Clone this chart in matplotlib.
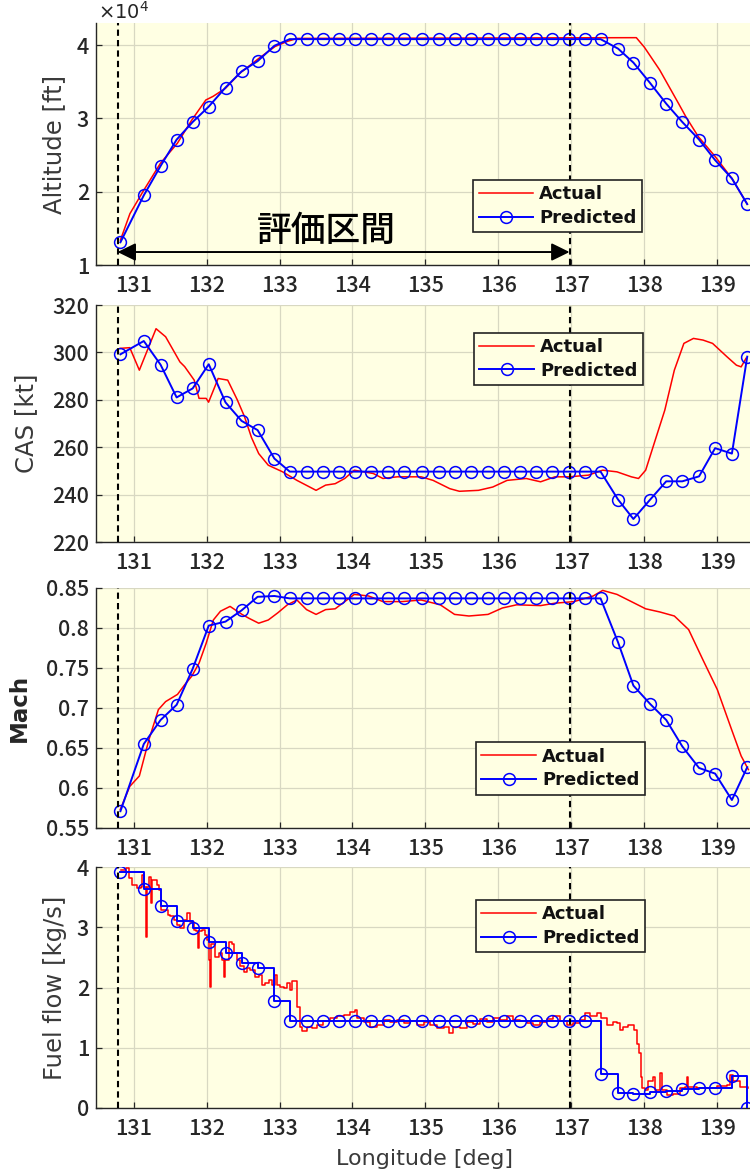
import numpy as np
import matplotlib
matplotlib.use("Agg")
import matplotlib.pyplot as plt
from matplotlib.patches import FancyArrowPatch
from matplotlib.ticker import FuncFormatter

plt.rcParams['font.family'] = ['Noto Sans CJK JP', 'DejaVu Sans']

# ---------------- data ----------------
# predicted sample longitudes (deg)
pred_lon = [130.82, 131.14, 131.37, 131.59, 131.81, 132.03, 132.26, 132.48, 132.70, 132.93,
            133.14, 133.37, 133.59, 133.81, 134.03, 134.25, 134.48, 134.71, 134.95, 135.19,
            135.41, 135.63, 135.86, 136.07, 136.30, 136.52, 136.74, 136.97, 137.18, 137.40,
            137.64, 137.85, 138.08, 138.30, 138.52, 138.75, 138.97, 139.20, 139.41]

pred_alt = [13100, 19500, 23500, 27100, 29500, 31600, 34200, 36400, 37800, 39900,
            40800, 40800, 40800, 40800, 40800, 40800, 40800, 40800, 40800, 40800,
            40800, 40800, 40800, 40800, 40800, 40800, 40800, 40800, 40800, 40800,
            39500, 37600, 34800, 32000, 29500, 27100, 24300, 21800, 18300]

pred_cas = [299.2, 304.8, 294.8, 281.0, 284.8, 295.0, 278.9, 271.1, 267.2, 255.2,
            249.7, 249.7, 249.7, 249.7, 249.7, 249.7, 249.7, 249.7, 249.7, 249.7,
            249.7, 249.7, 249.7, 249.7, 249.7, 249.7, 249.7, 249.7, 249.7, 249.7,
            237.9, 229.7, 237.9, 245.6, 245.6, 247.7, 259.6, 257.3, 298.2]

pred_mach = [0.571, 0.655, 0.685, 0.704, 0.749, 0.803, 0.808, 0.822, 0.839, 0.840,
             0.837, 0.837, 0.837, 0.837, 0.837, 0.837, 0.837, 0.837, 0.837, 0.837,
             0.837, 0.837, 0.837, 0.837, 0.837, 0.837, 0.837, 0.837, 0.837, 0.837,
             0.782, 0.728, 0.705, 0.685, 0.652, 0.625, 0.618, 0.585, 0.626]

pred_fuel = [3.91, 3.64, 3.35, 3.11, 2.98, 2.76, 2.57, 2.41, 2.32, 1.78,
             1.45, 1.44, 1.44, 1.44, 1.44, 1.44, 1.44, 1.44, 1.44, 1.44,
             1.44, 1.44, 1.44, 1.44, 1.44, 1.44, 1.44, 1.44, 1.44, 0.56,
             0.25, 0.24, 0.26, 0.29, 0.31, 0.34, 0.34, 0.53, 0.0]

# actual altitude (ft)
act_alt_lon = [130.82, 130.95, 131.14, 131.37, 131.60, 131.80, 131.99, 132.09, 132.26, 132.45,
               132.72, 132.94, 133.11, 133.24, 137.89, 138.00, 138.21, 138.47, 138.57, 138.74,
               138.97, 139.20, 139.41]
act_alt = [13400, 17000, 20200, 23900, 26600, 29800, 32500, 33000, 34100, 36100,
           38200, 39800, 40500, 40900, 41000, 39700, 36600, 32000, 30200, 27500,
           24800, 21800, 18300]

# actual CAS (kt)
act_cas_lon = [130.817, 130.948, 131.079, 131.308, 131.439, 131.635, 131.700, 131.831, 131.897, 131.995,
               132.028, 132.159, 132.290, 132.421, 132.519, 132.617, 132.715, 132.846, 133.043, 133.239,
               133.501, 133.632, 133.763, 133.894, 134.025, 134.286, 134.417, 134.614, 134.941, 135.105,
               135.334, 135.465, 135.727, 135.923, 136.119, 136.381, 136.578, 136.774, 136.971, 137.232,
               137.429, 137.625, 137.822, 137.920, 138.018, 138.149, 138.280, 138.411, 138.542, 138.673,
               138.804, 138.935, 139.131, 139.262, 139.327, 139.393]
act_cas = [301.7, 302.0, 292.5, 310.0, 306.6, 296.0, 294.0, 288.3, 280.6, 280.6,
           279.0, 289.0, 288.3, 280.0, 273.0, 264.0, 257.3, 252.4, 249.6, 246.0,
           241.8, 244.0, 244.6, 246.8, 250.3, 248.9, 246.8, 247.5, 247.5, 246.0,
           242.5, 241.4, 241.8, 243.2, 246.0, 246.8, 245.4, 247.5, 247.5, 248.2,
           250.3, 249.6, 247.5, 246.8, 250.3, 263.0, 275.6, 292.5, 303.8, 305.9,
           305.2, 303.8, 298.2, 294.6, 293.9, 297.5]

# actual Mach
act_mach_lon = [130.817, 130.948, 131.079, 131.209, 131.340, 131.439, 131.602, 131.700, 131.799, 131.897,
                131.995, 132.093, 132.191, 132.322, 132.486, 132.584, 132.715, 132.846, 132.977, 133.108,
                133.239, 133.370, 133.501, 133.632, 133.763, 133.894, 134.025, 134.221, 134.417, 134.679,
                134.941, 135.203, 135.399, 135.596, 135.858, 136.054, 136.250, 136.578, 136.774, 137.036,
                137.298, 137.429, 137.625, 137.822, 138.018, 138.214, 138.411, 138.607, 138.804, 139.000,
                139.196, 139.327, 139.426]
act_mach = [0.573, 0.602, 0.615, 0.660, 0.698, 0.708, 0.717, 0.729, 0.740, 0.756,
            0.781, 0.810, 0.821, 0.827, 0.817, 0.812, 0.806, 0.810, 0.819, 0.829,
            0.835, 0.823, 0.817, 0.823, 0.824, 0.833, 0.842, 0.840, 0.833, 0.833,
            0.835, 0.829, 0.817, 0.815, 0.817, 0.825, 0.829, 0.828, 0.831, 0.833,
            0.840, 0.847, 0.842, 0.833, 0.824, 0.820, 0.815, 0.798, 0.760, 0.723,
            0.673, 0.640, 0.623]

# actual fuel flow (kg/s)
act_fuel_lon = [130.822, 130.891, 130.936, 130.982, 131.050, 131.096, 131.119, 131.141, 131.164, 131.178,
                131.210, 131.233, 131.255, 131.324, 131.347, 131.370, 131.438, 131.470, 131.506, 131.552,
                131.598, 131.643, 131.689, 131.735, 131.780, 131.826, 131.862, 131.880, 131.899, 131.940,
                131.985, 132.008, 132.031, 132.045, 132.063, 132.099, 132.122, 132.168, 132.214, 132.236,
                132.259, 132.305, 132.350, 132.382, 132.419, 132.464, 132.510, 132.556, 132.601, 132.647,
                132.670, 132.715, 132.761, 132.807, 132.852, 132.898, 132.943, 132.966, 133.012, 133.058,
                133.103, 133.149, 133.172, 133.203, 133.240, 133.276, 133.308, 133.377, 133.445, 133.514,
                133.600, 133.696, 133.788, 133.879, 133.970, 134.039, 134.062, 134.153, 134.244, 134.335,
                134.426, 134.518, 134.609, 134.700, 134.791, 134.883, 134.974, 135.065, 135.157, 135.248,
                135.316, 135.384, 135.476, 135.567, 135.658, 135.749, 135.841, 135.932, 136.023, 136.115,
                136.206, 136.297, 136.389, 136.479, 136.571, 136.662, 136.753, 136.845, 136.936, 137.027,
                137.118, 137.187, 137.255, 137.347, 137.401, 137.484, 137.575, 137.620, 137.666, 137.712,
                137.780, 137.826, 137.857, 137.894, 137.930, 137.953, 137.971, 138.008, 138.053, 138.086,
                138.113, 138.145, 138.190, 138.213, 138.236, 138.305, 138.395, 138.487, 138.556, 138.579,
                138.601, 138.715, 138.853, 138.990, 139.126, 139.172, 139.218, 139.309, 139.423]
act_fuel = [3.95, 3.98, 3.81, 3.70, 3.65, 3.67, 3.87, 3.67, 2.84, 3.67,
            3.84, 3.40, 3.78, 3.70, 3.62, 3.29, 3.29, 3.20, 3.18, 3.12,
            3.04, 2.98, 3.12, 3.23, 3.09, 2.95, 2.93, 2.65, 2.93, 2.95,
            2.87, 2.79, 2.46, 2.01, 2.73, 2.73, 2.51, 2.57, 2.46, 2.18,
            2.46, 2.76, 2.73, 2.57, 2.46, 2.35, 2.26, 2.32, 2.29, 2.29,
            2.18, 2.21, 2.04, 2.07, 2.12, 2.04, 2.21, 2.04, 2.01, 1.99,
            2.07, 1.96, 2.10, 2.10, 1.68, 1.35, 1.27, 1.35, 1.32, 1.38,
            1.45, 1.49, 1.52, 1.54, 1.60, 1.63, 1.49, 1.43, 1.35, 1.38,
            1.46, 1.43, 1.46, 1.41, 1.45, 1.38, 1.42, 1.38, 1.32, 1.35,
            1.24, 1.35, 1.32, 1.43, 1.39, 1.47, 1.43, 1.49, 1.46, 1.52,
            1.46, 1.45, 1.41, 1.38, 1.43, 1.47, 1.52, 1.45, 1.38, 1.41,
            1.46, 1.57, 1.52, 1.57, 1.49, 1.38, 1.43, 1.41, 1.29, 1.35,
            1.38, 1.38, 1.29, 1.07, 0.91, 0.52, 0.33, 0.30, 0.44, 0.44,
            0.52, 0.30, 0.30, 0.58, 0.30, 0.22, 0.24, 0.33, 0.35, 0.52,
            0.35, 0.33, 0.34, 0.37, 0.38, 0.55, 0.44, 0.35, 0.34]

x_ticks = [131, 132, 133, 134, 135, 136, 137, 138, 139]
eval_start, eval_end = 130.78, 136.975
arrow_label = "評価区間"

# ---------------- styling ----------------
W, H = 750, 1173
BG = '#FFFFE3'
GRID = '#d8d8c2'
TXT = '#262626'
LBL = '#3a3a3a'

fig = plt.figure(figsize=(W / 100, H / 100), dpi=100)
fig.patch.set_facecolor('white')


def rect(top, bottom, left=96, right=750):
    return [left / W, 1 - bottom / H, (right - left) / W, (bottom - top) / H]


axes = [fig.add_axes(rect(23, 265)), fig.add_axes(rect(305, 542)),
        fig.add_axes(rect(588, 828)), fig.add_axes(rect(867, 1108))]

series = [
    (act_alt_lon, act_alt, pred_alt, 'Altitude [ft]', (10000, 43000), [10000, 20000, 30000, 40000], 'normal'),
    (act_cas_lon, act_cas, pred_cas, 'CAS [kt]', (220, 320), [220, 240, 260, 280, 300, 320], 'normal'),
    (act_mach_lon, act_mach, pred_mach, 'Mach', (0.55, 0.85), [0.55, 0.6, 0.65, 0.7, 0.75, 0.8, 0.85], 'bold'),
    (act_fuel_lon, act_fuel, pred_fuel, 'Fuel flow [kg/s]', (0, 4), [0, 1, 2, 3, 4], 'normal'),
]
ylab_x = [-0.045, -0.089, -0.099, -0.045]
legend_anchor = [(0.8349, 0.351), (0.836, 0.882), (0.839, 0.357), (0.839, 0.863)]

for i, (ax, (alon, aval, pval, ylabel, ylim, yticks, fw)) in enumerate(zip(axes, series)):
    ax.set_facecolor(BG)
    ds = 'steps-post' if i == 3 else 'default'
    ax.plot(alon, aval, color='#ff0000', lw=1.1, drawstyle=ds, label='Actual', zorder=3)
    ax.plot(pred_lon, pval, color='#0000ff', lw=1.4, drawstyle=ds, marker='o', ms=8.5,
            mfc='none', mec='#0000ff', mew=1.1, label='Predicted', zorder=4)
    for xv in (eval_start, eval_end):
        ax.axvline(xv, color='black', lw=1.5, ls=(0, (3.0, 2.0)), zorder=5)
    ax.set_xlim(130.485, 139.448)
    ax.set_ylim(*ylim)
    ax.set_xticks(x_ticks)
    ax.set_yticks(yticks)
    ax.grid(True, color=GRID, lw=0.9, zorder=0)
    ax.set_axisbelow(True)
    for s in ('top', 'right'):
        ax.spines[s].set_visible(False)
    for s in ('left', 'bottom'):
        ax.spines[s].set_color(TXT)
        ax.spines[s].set_linewidth(1.0)
    ax.tick_params(direction='in', length=4, width=0.9, colors=TXT, labelsize=15.5,
                   pad=5)
    ax.tick_params(axis='x', pad=7)
    for lab in ax.get_xticklabels() + ax.get_yticklabels():
        lab.set_fontweight('medium')
    ax.set_ylabel(ylabel, family='DejaVu Sans', fontsize=17.5 if fw == 'normal' else 16.5,
                  fontweight=fw, color=LBL if fw == 'normal' else TXT)
    ax.yaxis.set_label_coords(ylab_x[i], 0.5)
    leg = ax.legend(loc='upper right', bbox_to_anchor=legend_anchor[i], borderaxespad=0,
                    prop={'family': 'DejaVu Sans', 'weight': 'bold', 'size': 13},
                    fancybox=False, framealpha=1, facecolor=BG, edgecolor='#222222',
                    handlelength=3.0, handletextpad=0.35, borderpad=0.3, labelspacing=0.3)
    leg.get_frame().set_linewidth(1.2)
    for t in leg.get_texts():
        t.set_color('#111111')

# y formats
axes[0].yaxis.set_major_formatter(FuncFormatter(lambda v, p: f"{v / 1e4:g}"))
axes[2].yaxis.set_major_formatter(FuncFormatter(lambda v, p: f"{v:g}"))
for ax in axes:
    for lab in ax.get_xticklabels() + ax.get_yticklabels():
        lab.set_fontweight('medium')
fig.text(98 / W, 1 - 19 / H, r'$\times10^{4}$', fontsize=14, color=TXT, ha='left', va='baseline',
         family='DejaVu Sans')

axes[3].set_xlabel('Longitude [deg]', family='DejaVu Sans', fontsize=16, color=LBL)
axes[3].xaxis.set_label_coords(0.503, -0.172)
axes[3].xaxis.label.set_va('top')

# evaluation interval arrow
ax0 = axes[0]
arr = FancyArrowPatch((eval_start, 11770), (eval_end, 11770), arrowstyle='<|-|>,head_length=0.55,head_width=0.27',
                      mutation_scale=20, color='black', lw=1.4, shrinkA=0, shrinkB=0, zorder=6)
ax0.add_patch(arr)
ax0.text(133.64, 14700, arrow_label, fontsize=25, ha='center', va='center', color='black',
         family=['Noto Sans CJK JP', 'DejaVu Sans'], fontweight='medium', zorder=6)

fig.savefig('out.png', dpi=100, facecolor='white')
